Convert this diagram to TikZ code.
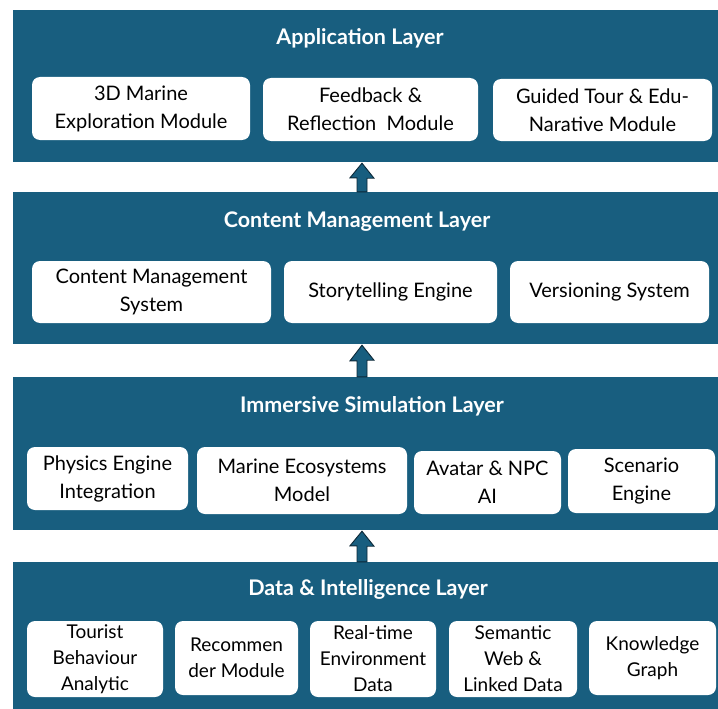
\documentclass[tikz,border=0pt]{standalone}
\usepackage{fontspec}
\setmainfont{Lato}
\usetikzlibrary{calc}
\definecolor{layerblue}{RGB}{24,94,127}
\definecolor{arrowedge}{RGB}{12,40,55}
\newcommand{\mkbox}[7][]{\node[box,#1, minimum width={#5-#3}, minimum height={#6-#4}] (#2) at ({(#3+#5)/2},{(#4+#6)/2}) {#7};}
\begin{document}
\begin{tikzpicture}[x=1pt,y=-1pt,
  box/.style={fill=white, draw=none, rounded corners=8pt, inner sep=0pt, align=center, text=black, font=\fontsize{20}{28}\selectfont},
  layer/.style={fill=layerblue, draw=none, sharp corners, inner sep=0pt},
  dbox/.style={font=\fontsize{19}{26}\selectfont},
  ltitle/.style={text=white, font=\bfseries\fontsize{21.5}{26}\selectfont, inner sep=0pt},
  blockarrow/.style={fill=layerblue, draw=arrowedge, line width=0.9pt, line join=miter}]
\useasboundingbox (0,0) rectangle (718,709);
\fill[white] (0,0) rectangle (718,709);
% layers
\mkbox[layer]{L1}{13}{10}{718}{162}{}
\mkbox[layer]{L2}{13}{192}{718}{344}{}
\mkbox[layer]{L3}{13}{377}{718}{530}{}
\mkbox[layer]{L4}{13}{562}{718}{709}{}
% titles
\node[ltitle] (T1) at (360,38) {Application Layer};
\node[ltitle] (T2) at (357,222) {Content Management Layer};
\node[ltitle] (T3) at (372,406) {Immersive Simulation Layer};
\node[ltitle] (T4) at (368,589) {Data \& Intelligence Layer};
% application boxes
\mkbox{A1}{32}{77}{250}{140}{3D Marine\\Exploration Module}
\mkbox{A2}{263}{78}{478}{141}{Feedback \&\\Reflection\ \ Module}
\mkbox{A3}{493}{79}{712}{141}{Guided Tour \& Edu-\\Narative Module}
% content boxes
\mkbox{C1}{32}{261}{271}{323}{Content Management\\System}
\mkbox{C2}{284}{261}{497}{323}{Storytelling Engine}
\mkbox{C3}{510}{261}{709}{323}{Versioning System}
% immersive boxes
\mkbox{I1}{27}{447}{188}{510}{Physics Engine\\Integration}
\mkbox{I2}{197}{447}{407}{514}{Marine Ecosystems\\Model}
\mkbox{I3}{414}{451}{561}{514}{Avatar \& NPC\\AI}
\mkbox{I4}{568}{449}{715}{513}{Scenario\\Engine}
% data boxes
\mkbox[dbox]{D1}{27}{621}{163}{697}{Tourist\\Behaviour\\Analytic}
\mkbox[dbox]{D2}{175}{621}{298}{695}{Recommen\\der Module}
\mkbox[dbox]{D3}{310}{621}{436}{697}{Real-time\\Environment\\Data}
\mkbox[dbox]{D4}{449}{621}{577}{697}{Semantic\\Web \&\\Linked Data}
\mkbox[dbox]{D5}{589}{621}{716}{695}{Knowledge\\Graph}
% block arrows (from lower layer up to upper layer)
\coordinate (a1) at ($(L1.south -| 362,0)+(0,1)$);
\coordinate (a2) at ($(L2.south -| 362,0)+(0,1)$);
\coordinate (a3) at ($(L3.south -| 362,0)+(0,1)$);
\draw[blockarrow] (a1) -- ++(12,15) -- ++(-7,0) -- (L2.north -| 367,0) -- (L2.north -| 357,0) -- ++(0,-14) -- ++(-7,0) -- cycle;
\draw[blockarrow] (a2) -- ++(12,15) -- ++(-7,0) -- (L3.north -| 367,0) -- (L3.north -| 357,0) -- ++(0,-16) -- ++(-7,0) -- cycle;
\draw[blockarrow] (a3) -- ++(12,15) -- ++(-7,0) -- (L4.north -| 367,0) -- (L4.north -| 357,0) -- ++(0,-16) -- ++(-7,0) -- cycle;
\end{tikzpicture}
\end{document}
